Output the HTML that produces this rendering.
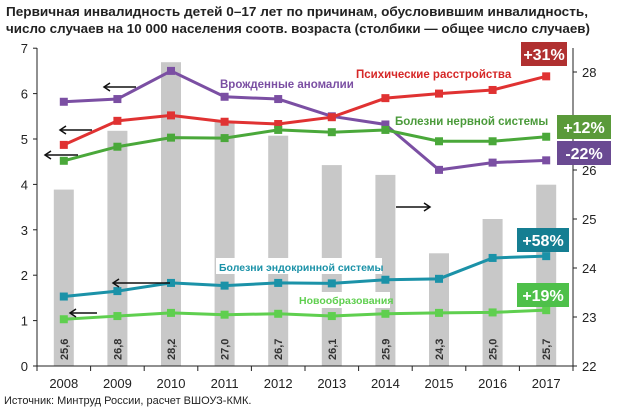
<!DOCTYPE html>
<html><head><meta charset="utf-8"><style>
body{margin:0;background:#fff;}
svg{display:block;font-family:"Liberation Sans",sans-serif;}
</style></head><body>
<svg id="c" width="627" height="409">
<text x="6" y="16" font-size="12.5" font-weight="bold" fill="#222" textLength="582" lengthAdjust="spacingAndGlyphs">Первичная инвалидность детей 0–17 лет по причинам, обусловившим инвалидность,</text>
<text x="6" y="33" font-size="12.5" font-weight="bold" fill="#222" textLength="584" lengthAdjust="spacingAndGlyphs">число случаев на 10 000 населения соотв. возраста (столбики — общее число случаев)</text>
<g id="bars"></g><g id="lines"></g><g id="axes"></g>
<text x="4" y="404" font-size="11" fill="#222">Источник: Минтруд России, расчет ВШОУЗ-КМК.</text>
</svg>
<script>
const years=['2008','2009','2010','2011','2012','2013','2014','2015','2016','2017'];
const totals=[25.6,26.8,28.2,27.0,26.7,26.1,25.9,24.3,25.0,25.7];
const congenital=[5.82,5.88,6.5,5.93,5.88,5.5,5.32,4.32,4.48,4.53];
const mental=[4.87,5.4,5.52,5.38,5.33,5.48,5.9,6.0,6.08,6.38];
const nervous=[4.52,4.83,5.03,5.02,5.2,5.15,5.2,4.95,4.95,5.05];
const endocrine=[1.53,1.65,1.83,1.77,1.83,1.82,1.9,1.92,2.38,2.42];
const neoplasms=[1.03,1.1,1.17,1.13,1.15,1.1,1.15,1.17,1.18,1.23];
const leftTicks=[0,1,2,3,4,5,6,7];
const rightTicks=[22,23,24,25,26,27,28];
const NS='http://www.w3.org/2000/svg';
const X0=37,X1=573,Y0=366;
const bw=(X1-X0)/years.length;
const x=i=>X0+bw*(i+0.5);
const yl=v=>Y0-v*45.4;
const yr=v=>Y0-(v-22)*49;
function mk(p,t,a){const e=document.createElementNS(NS,t);for(const k in a)e.setAttribute(k,a[k]);p.appendChild(e);return e;}
const gb=document.getElementById('bars'),gl=document.getElementById('lines'),ga=document.getElementById('axes');
totals.forEach((v,i)=>{
 const r=mk(gb,'rect',{x:x(i)-10,y:yr(v),width:20,height:Y0-yr(v),fill:'#c8c8c8'});
 
 
 const t=mk(gb,'text',{transform:`translate(${x(i)+4},360) rotate(-90)`,'font-size':'11','font-weight':'bold',fill:'#333'});
 t.textContent=v.toFixed(1).replace('.',',');
 
 
});
[[216,258,166,16],[296,292,94,16]].forEach(b=>{mk(gb,'rect',{x:b[0],y:b[1],width:b[2],height:b[3],fill:'#fff'});});
const series=[[congenital,'#7b4fa3','congenital'],[mental,'#e03232','mental'],[nervous,'#4aa83a','nervous'],[endocrine,'#1b92a8','endocrine'],[neoplasms,'#5fcf4f','neoplasms']];
series.forEach(([d,c,n])=>{
 const p=mk(gl,'polyline',{points:d.map((v,i)=>x(i)+','+yl(v)).join(' '),fill:'none',stroke:c,'stroke-width':3});
 
 
 d.forEach((v,i)=>{const m=mk(gl,'rect',{x:x(i)-4,y:yl(v)-4,width:8,height:8,fill:c});
  
  });
});
mk(ga,'line',{x1:X0,y1:48,x2:X0,y2:Y0,stroke:'#222'});
mk(ga,'line',{x1:X1,y1:48,x2:X1,y2:Y0,stroke:'#222'});
mk(ga,'line',{x1:X0,y1:Y0,x2:X1,y2:Y0,stroke:'#222'});
leftTicks.forEach(v=>{mk(ga,'line',{x1:X0-4,y1:yl(v),x2:X0,y2:yl(v),stroke:'#222'});
 const t=mk(ga,'text',{x:X0-9,y:yl(v)+5,'font-size':'13','text-anchor':'end',fill:'#222'});t.textContent=v;
 });
rightTicks.forEach(v=>{mk(ga,'line',{x1:X1,y1:yr(v),x2:X1+4,y2:yr(v),stroke:'#222'});
 const t=mk(ga,'text',{x:X1+9,y:yr(v)+5,'font-size':'13',fill:'#222'});t.textContent=v;
 });
years.forEach((y,i)=>{mk(ga,'line',{x1:X0+bw*i,y1:Y0,x2:X0+bw*i,y2:Y0+5,stroke:'#222'});
 const t=mk(ga,'text',{x:x(i),y:388,'font-size':'13','text-anchor':'middle',fill:'#222'});t.textContent=y;
 });
mk(ga,'line',{x1:X1,y1:Y0,x2:X1,y2:Y0+5,stroke:'#222'});
[['Врожденные аномалии',220,88,'#7b4fa3','11.5'],['Психические расстройства',356,78,'#d62828','11.5'],['Болезни нервной системы',395,125,'#4a9a3a','11.5'],['Болезни эндокринной системы',219,271,'#1b92a8','10.5'],['Новообразования',299,304,'#5fcf4f','10.5']].forEach(l=>{
 const t=mk(ga,'text',{x:l[1],y:l[2],'font-size':l[4],'font-weight':'bold',fill:l[3]});t.textContent=l[0];
 });
[['+31%',521,42,46,'#b03030'],['+12%',557,115,54,'#5a9a3a'],['-22%',557,141,54,'#6a4a92'],['+58%',517,228,52,'#157e92'],['+19%',517,283,52,'#4ec04a']].forEach(b=>{
 mk(ga,'rect',{x:b[1],y:b[2],width:b[3],height:24,fill:b[4]});
 const t=mk(ga,'text',{x:b[1]+b[3]/2,y:b[2]+18,'font-size':'16','font-weight':'bold',fill:'#fff','text-anchor':'middle'});t.textContent=b[0];
 });
[[136,87,104],[92,130,60],[78,155,45],[170,283,113],[97,313,70],[396,207,430]].forEach(a=>{
 mk(ga,'line',{x1:a[0],y1:a[1],x2:a[2],y2:a[1],stroke:'#111','stroke-width':1.5});
 const d=a[2]<a[0]?1:-1;
 mk(ga,'polyline',{points:`${a[2]+6*d},${a[1]-4} ${a[2]},${a[1]} ${a[2]+6*d},${a[1]+4}`,fill:'none',stroke:'#111','stroke-width':1.5});
});
</script>
</body></html>
